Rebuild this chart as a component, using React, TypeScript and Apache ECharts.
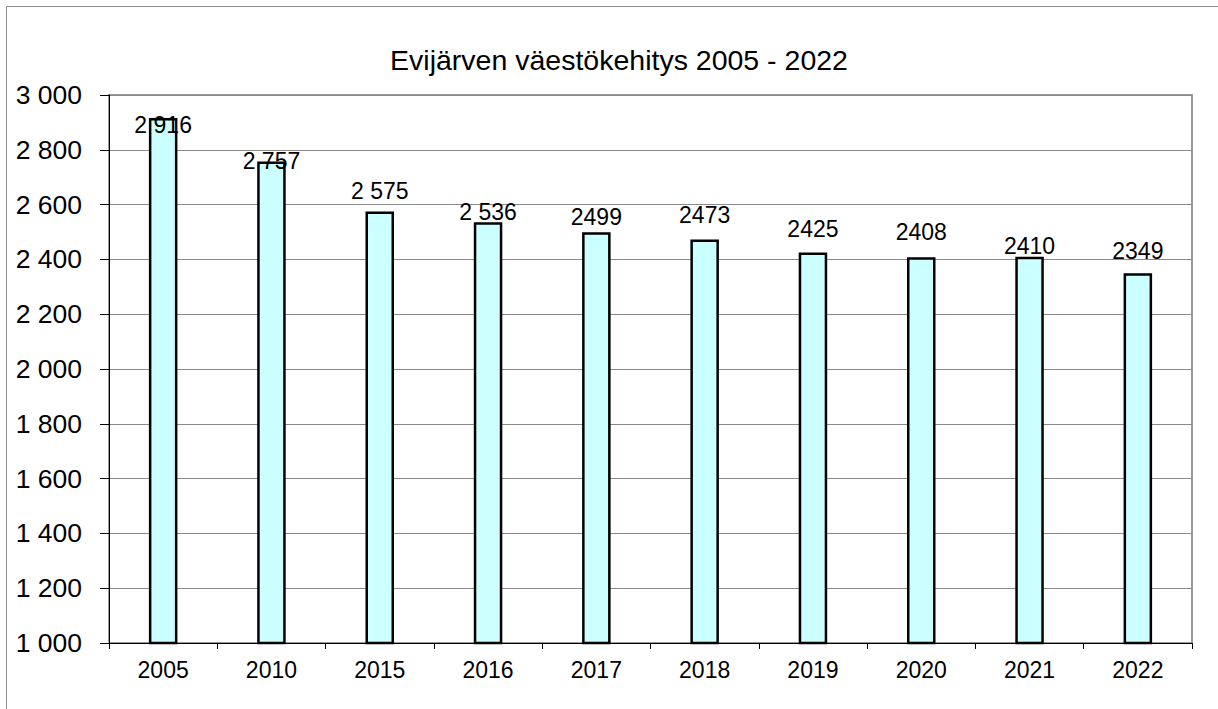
import React, { useEffect, useRef } from "react";
import * as echarts from "echarts";

const titleText = "Evijärven väestökehitys 2005 - 2022";
const categories = ["2005", "2010", "2015", "2016", "2017", "2018", "2019", "2020", "2021", "2022"];
const population = [2916, 2757, 2575, 2536, 2499, 2473, 2425, 2408, 2410, 2349];
const valueLabels = ["2 916", "2 757", "2 575", "2 536", "2499", "2473", "2425", "2408", "2410", "2349"];
const labelOffsetsY = [18.5, 11, -9, 1.5, -4, -13, -12, -13.7, 1, -11];
const yTickValues = [1000, 1200, 1400, 1600, 1800, 2000, 2200, 2400, 2600, 2800, 3000];
const yTickLabels = ["1 000", "1 200", "1 400", "1 600", "1 800", "2 000", "2 200", "2 400", "2 600", "2 800", "3 000"];

const FONT = "'Liberation Sans', Arial, sans-serif";

export default function App() {
  const ref = useRef<HTMLDivElement>(null);
  useEffect(() => {
    if (!ref.current) return;
    const chart = echarts.init(ref.current, null, { renderer: "svg" });
    chart.setOption({
      animation: false,
      backgroundColor: "#ffffff",
      textStyle: { fontFamily: FONT },
      title: {
        text: titleText,
        left: 614,
        top: 40,
        textAlign: "center",
        textStyle: { fontFamily: FONT, fontSize: 28.5, fontWeight: "normal", color: "#000", lineHeight: 29 },
      },
      graphic: [
        {
          type: "rect",
          shape: { x: 6.5, y: 6.5, width: 1300, height: 800 },
          style: { fill: "none", stroke: "#8c8c8c", lineWidth: 1 },
          silent: true,
          z: 0,
        },
      ],
      grid: {
        left: 109,
        right: 26,
        top: 95,
        bottom: 66,
        show: true,
        borderColor: "#9a9a9a",
        borderWidth: 2,
        backgroundColor: "transparent",
      },
      xAxis: {
        type: "category",
        data: categories,
        boundaryGap: true,
        axisLine: { show: true, lineStyle: { color: "#000", width: 1 } },
        axisTick: { show: true, length: 6, lineStyle: { color: "#000", width: 1 } },
        axisLabel: { fontFamily: FONT, fontSize: 23, color: "#000", margin: 15, lineHeight: 23 },
        splitLine: { show: false },
      },
      yAxis: {
        type: "value",
        min: 1000,
        max: 3000,
        interval: 200,
        axisLine: { show: true, lineStyle: { color: "#000", width: 1 } },
        axisTick: { show: true, length: 9, lineStyle: { color: "#000", width: 1 } },
        axisLabel: {
          fontFamily: FONT,
          fontSize: 26.5,
          color: "#000",
          margin: 27,
          formatter: (v: number) => {
            const i = yTickValues.indexOf(v);
            return i >= 0 ? yTickLabels[i] : String(v);
          },
        },
        splitLine: { show: true, lineStyle: { color: "#8a8a8a", width: 1 } },
      },
      series: [
        {
          type: "bar",
          barWidth: 28.5,
          data: population.map((v, i) => ({
            value: v,
            label: {
              show: true,
              position: "top",
              distance: 0,
              offset: [0, labelOffsetsY[i]],
              formatter: valueLabels[i],
              fontFamily: FONT,
              fontSize: 23,
              lineHeight: 23,
              color: "#000",
            },
          })),
          itemStyle: { color: "#ccffff", borderColor: "#000", borderWidth: 2.5 },
          z: 3,
        },
      ],
    });
    return () => chart.dispose();
  }, []);
  return (
    <div
      ref={ref}
      style={{ position: "absolute", left: 0, top: 0, width: 1218, height: 709 }}
    />
  );
}
